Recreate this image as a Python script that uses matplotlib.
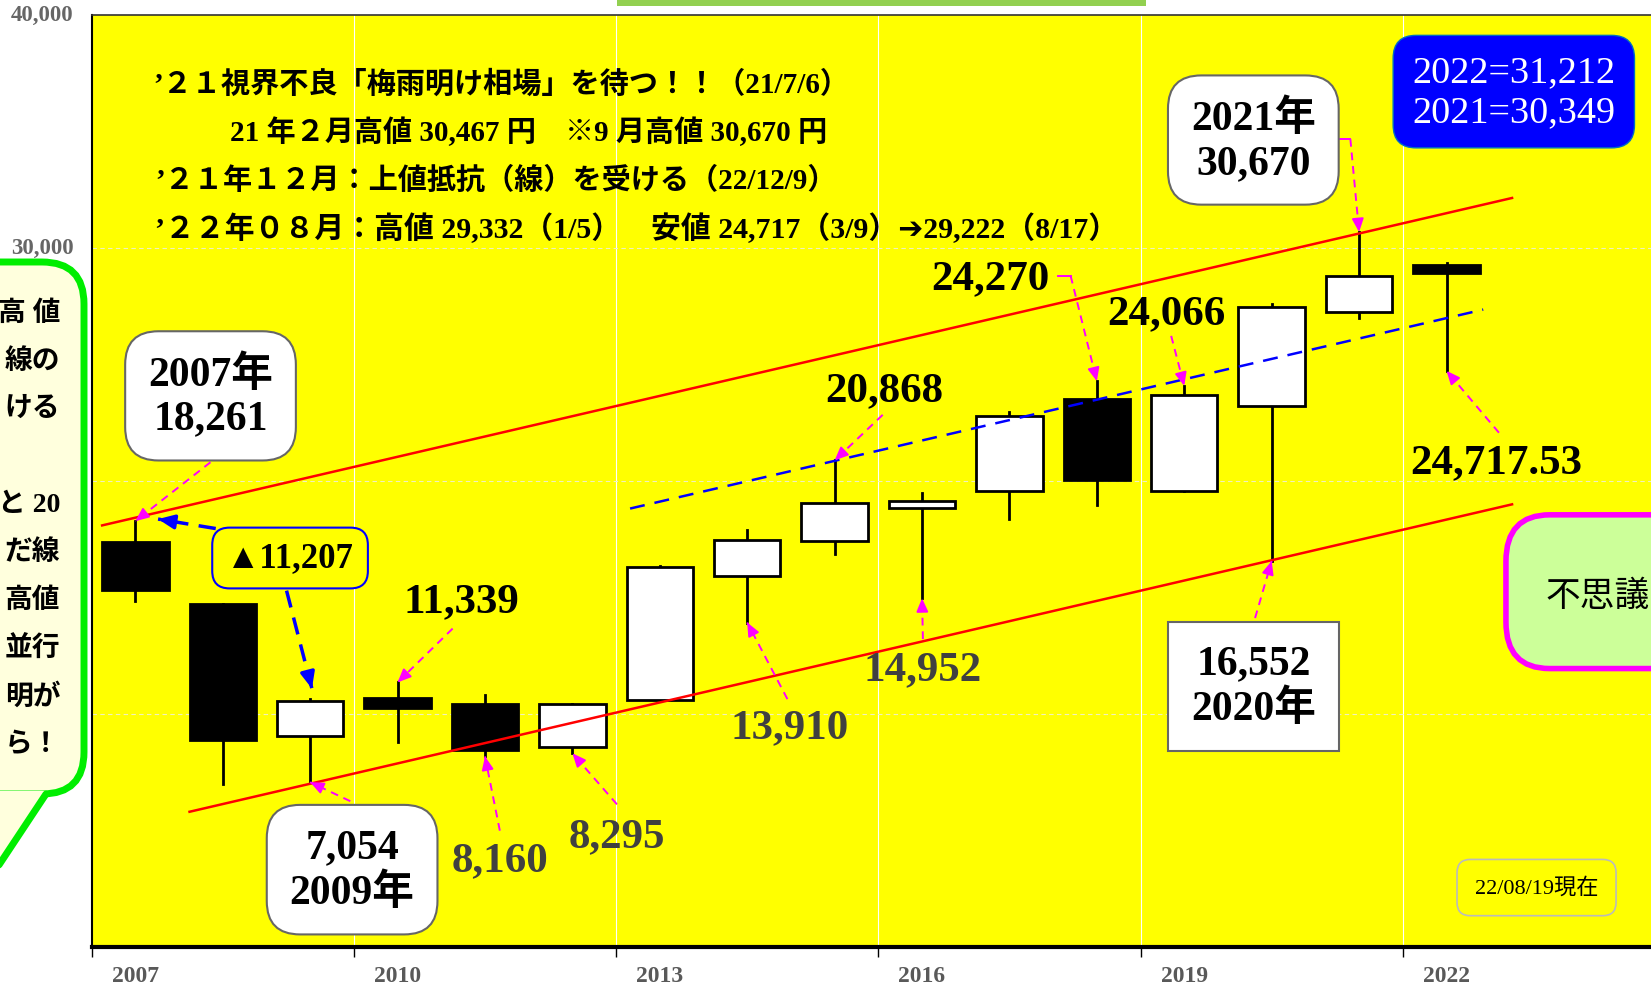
import numpy as np
import matplotlib
matplotlib.use("Agg")
import matplotlib.pyplot as plt
from matplotlib.patches import Rectangle, FancyBboxPatch, Polygon

# yearly candles, Nikkei 225 (2022 as of 22/08/19)
years = list(range(2007, 2023))
opens = [17353, 14691, 9043, 10654, 10398, 8549, 10604, 15910, 17408, 18818,
         19570, 23500, 19561, 23190, 27250, 29250]
closes = [15307, 8859, 10546, 10228, 8455, 10395, 16291, 17451, 19034, 19114,
          22764, 20015, 23657, 27444, 28791, 28930]
highs = [18261, 14691, 10639, 11339, 10802, 10433, 16320, 17898, 20868, 19480,
         22939, 24270, 24066, 27602, 30670, 29332]
lows = [14837, 6994, 7054, 8796, 8160, 8295, 10600, 13910, 16859, 14952,
        18350, 18949, 19561, 16552, 27002, 24717.53]

tick_years = [2007, 2010, 2013, 2016, 2019, 2022]

# channel lines (x in years from 2007 boundary)
upper_x = [0.12, 16.25]
upper_y = [18079, 32136]
lower_x = [1.12, 16.25]
lower_y = [5785, 18983]
trend_x = [6.16, 15.92]
trend_y = [18802, 27345]

SERIF = ['Liberation Serif', 'Noto Sans CJK JP', 'DejaVu Sans']
plt.rcParams['font.family'] = SERIF

YELLOW = '#FFFF00'
MAG = '#FF00FF'
GRAY = '#404040'

fig = plt.figure(figsize=(16.51, 9.87), dpi=100)
ax = fig.add_axes([0.0555, 0.040, 0.953, 0.944])
ax.set_facecolor(YELLOW)
ax.set_xlim(0, 18)
ax.set_ylim(0, 40000)

# grid
for t in range(3, 18, 3):
    ax.axvline(t, color='white', lw=0.8, zorder=0)
for v in [10000, 20000, 30000]:
    ax.axhline(v, color='#f0f0c0', lw=0.8, ls=(0, (4, 3)), zorder=0)

# axes styling
ax.set_xticks([(y - 2007) for y in tick_years])
ax.set_xticklabels([])
ax.set_xticks([(y - 2007) + 0.5 for y in tick_years], minor=True)
ax.set_xticklabels([str(y) for y in tick_years], minor=True,
                   fontsize=17, fontweight='bold', color='#595959')
ax.tick_params(axis='x', which='minor', length=0, pad=13)
ax.tick_params(axis='x', which='major', length=7, width=1)
ax.set_yticks([0, 10000, 20000, 30000, 40000])
ax.set_yticklabels(['', '', '', '30,000', '40,000'], fontsize=16.5,
                   fontweight='bold', color='#666666')
ax.tick_params(axis='y', length=0, pad=13)
for lab in ax.get_yticklabels():
    lab.set_verticalalignment('center')
ax.spines['bottom'].set_linewidth(3)
ax.spines['left'].set_linewidth(1.5)
ax.spines['top'].set_linewidth(1.2)
ax.spines['top'].set_color('#333333')
ax.spines['right'].set_visible(False)

# candles
for i in range(len(years)):
    x = i + 0.5
    o, c = opens[i], closes[i]
    ax.plot([x, x], [lows[i], highs[i]], color='black', lw=2, zorder=3)
    fc = 'white' if c >= o else 'black'
    ax.add_patch(Rectangle((x - 0.38, min(o, c)), 0.76, abs(c - o),
                           facecolor=fc, edgecolor='black', lw=2, zorder=4))

ax.plot(upper_x, upper_y, color='red', lw=1.8, zorder=5)
ax.plot(lower_x, lower_y, color='red', lw=1.8, zorder=5)
ax.plot(trend_x, trend_y, color='#0000FF', lw=1.8, ls=(0, (6, 4)), zorder=5)


def dash_arrow(start, end, color=MAG, lw=1.4, dashes=(4, 3), head=0.5):
    ax.plot([start[0], end[0]], [start[1], end[1]], color=color, lw=lw,
            ls=(0, dashes), zorder=6)
    ax.annotate('', xy=end, xytext=(start[0] + 0.9 * (end[0] - start[0]),
                                    start[1] + 0.9 * (end[1] - start[1])),
                arrowprops=dict(arrowstyle='-|>,head_length=%s,head_width=%s' % (head * 1.6, head * 0.7),
                                color=color, lw=lw, shrinkA=0, shrinkB=0),
                zorder=7)


# headline text
head_kw = dict(fontsize=21, fontweight='bold', color='black', va='center', ha='left')
ax.text(0.70, 37064, '’２１視界不良「梅雨明け相場」を待つ！！（21/7/6）', **head_kw)
ax.text(1.58, 34985, '21 年２月高値 30,467 円　※9 月高値 30,670 円', **head_kw)
ax.text(0.73, 32906, '’２１年１２月：上値抵抗（線）を受ける（22/12/9）', **head_kw)
ax.text(0.73, 30872, '’２２年０８月：高値 29,332（1/5）　安値 24,717（3/9）➔29,222（8/17）',
        **dict(head_kw, fontsize=21.5))

# boxed callouts
white_box = dict(boxstyle='round,pad=0.55,rounding_size=0.8', fc='white', ec='#666666', lw=1.5)
box_kw = dict(fontsize=30, fontweight='bold', ha='center', va='center',
              linespacing=1.2, zorder=8)
ax.text(1.36, 23640, '2007年\n18,261', bbox=white_box, **box_kw)
ax.text(13.29, 34623, '2021年\n30,670', bbox=white_box, **box_kw)
ax.text(2.98, 3300, '7,054\n2009年', bbox=white_box, **box_kw)
ax.text(13.29, 11164, '16,552\n2020年',
        bbox=dict(boxstyle='square,pad=0.55', fc='white', ec='#666666', lw=1.5), **box_kw)
ax.text(2.27, 16679, '▲11,207', fontsize=25, fontweight='bold', ha='center', va='center',
        zorder=8, bbox=dict(boxstyle='round,pad=0.4,rounding_size=0.5', fc=YELLOW,
                            ec='#0000FF', lw=1.5))
ax.text(16.27, 36702, '2022=31,212\n2021=30,349', fontsize=27.5, color='white',
        ha='center', va='center', linespacing=1.2, zorder=8,
        bbox=dict(boxstyle='round,pad=0.5,rounding_size=0.6', fc='#0000FF', ec='#0070C0', lw=1))
ax.text(16.53, 2531, '22/08/19現在', fontsize=16, ha='center', va='center', zorder=8,
        bbox=dict(boxstyle='round,pad=0.8,rounding_size=0.6', fc=YELLOW, ec='#bbbbbb', lw=1.2))

# plain value labels
val_kw = dict(fontsize=31, fontweight='bold', ha='center', va='center', zorder=8)
ax.text(4.23, 14826, '11,339', color='black', **val_kw)
ax.text(9.07, 23866, '20,868', color='black', **val_kw)
ax.text(10.28, 28702, '24,270', color='black', **val_kw)
ax.text(12.30, 27210, '24,066', color='black', **val_kw)
ax.text(16.07, 20792, '24,717.53', color='black', **val_kw)
ax.text(4.67, 3706, '8,160', color=GRAY, **val_kw)
ax.text(6.01, 4746, '8,295', color=GRAY, **val_kw)
ax.text(7.99, 9402, '13,910', color=GRAY, **val_kw)
ax.text(9.51, 11888, '14,952', color=GRAY, **val_kw)

# magenta pointers
dash_arrow((1.36, 20792), (0.5, 18261))
dash_arrow((4.13, 13650), (3.5, 11339))
dash_arrow((4.67, 4972), (4.5, 8160))
dash_arrow((6.01, 6102), (5.5, 8295))
dash_arrow((7.96, 10622), (7.5, 13910))
dash_arrow((9.51, 13198), (9.5, 14952))
dash_arrow((9.05, 22826), (8.5, 20868))
ax.plot([11.06, 11.2], [28792, 28792], color=MAG, lw=1.4, zorder=6)
dash_arrow((11.2, 28792), (11.5, 24270))
dash_arrow((12.35, 26216), (12.5, 24066))
ax.plot([14.28, 14.4], [34670, 34670], color=MAG, lw=1.4, zorder=6)
dash_arrow((14.4, 34670), (14.5, 30670))
dash_arrow((16.10, 22058), (15.5, 24717.53))
dash_arrow((13.31, 14102), (13.5, 16552))
dash_arrow((2.96, 6238), (2.5, 7054))

# blue pointers from the drop box
dash_arrow((1.42, 17944), (0.76, 18351), color='#0000FF', lw=2.5, dashes=(5, 3), head=0.6)
dash_arrow((2.23, 15278), (2.52, 11074), color='#0000FF', lw=2.5, dashes=(5, 3), head=0.6)

# right-hand speech bubble (cut off by the frame)
ax.add_patch(FancyBboxPatch((16.18, 11933), 3.0, 6600,
                            boxstyle='round,pad=0,rounding_size=0.5',
                            mutation_aspect=4000, fc='#CCFF99', ec=MAG, lw=4, zorder=8,
                            clip_on=False))
ax.text(16.63, 15006, '不思議', fontsize=25, ha='left', va='center', zorder=9)

# left-hand speech bubble, drawn in inches on the figure
inch = fig.dpi_scale_trans
GREEN = '#00EE00'
PALE = '#FFFFDD'
fig.patches.append(FancyBboxPatch((-1.0, 1.92), 1.84, 5.32,
                                  boxstyle='round,pad=0,rounding_size=0.42',
                                  transform=inch, fc=PALE, ec=GREEN, lw=5, zorder=10))
fig.patches.append(Polygon([[0.46, 1.95], [-0.05, 1.15], [-0.5, 1.15], [-0.5, 1.95]],
                           closed=True, transform=inch, fc=PALE, ec='none', zorder=11))
fig.add_artist(plt.Line2D([0.46, -0.05], [1.92, 1.15], transform=inch,
                          color=GREEN, lw=5, solid_capstyle='round', zorder=12))
left_lines = ['高 値', '線の', 'ける', '', 'と 20', 'だ線', '高値', '並行', '明が', 'ら！']
for k, s in enumerate(left_lines):
    fig.text(0.0365, 1 - (298 + 45.5 * k) / 937, s, fontsize=20, fontweight='bold',
             ha='right', va='center', zorder=13)

# green strip at the top
fig.patches.append(Rectangle((0.374, 0.9925), 0.32, 0.0075, transform=fig.transFigure,
                             fc='#92D050', ec='none', zorder=10))

fig.savefig('out.png', dpi=100, facecolor='white')
